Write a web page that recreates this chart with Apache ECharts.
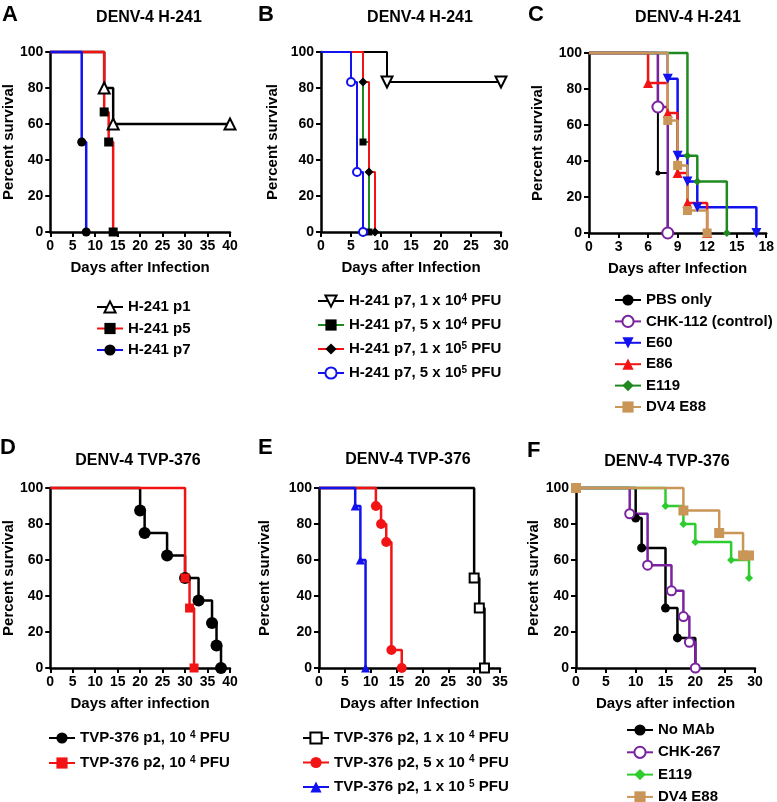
<!DOCTYPE html>
<html>
<head>
<meta charset="utf-8">
<script src="https://cdn.jsdelivr.net/npm/echarts@6/dist/echarts.min.js"></script>
<style>
  html, body { margin: 0; padding: 0; background: #fff; }
  #main { width: 777px; height: 802px; }
</style>
</head>
<body>
<div id="main"></div>
<script>
// survival data, [day, percent]
const panelA_p1 = [[0, 100], [12, 80], [14, 60], [40, 60]];
const panelA_p5 = [[0, 100], [12, 66.7], [13, 50], [14, 0]];
const panelA_p7 = [[0, 100], [7, 50], [8, 0]];

const panelB_1e4 = [[0, 100], [11, 83.3], [30, 83.3]];
const panelB_5e4 = [[0, 100], [7, 50], [8, 0]];
const panelB_1e5 = [[0, 100], [7, 83.3], [8, 33.3], [9, 0]];
const panelB_5e5 = [[0, 100], [5, 83.3], [6, 33.3], [7, 0]];

const panelC_pbs = [[0, 100], [7, 33.3], [8, 0]];
const panelC_chk112 = [[0, 100], [7, 70], [8, 0]];
const panelC_e60 = [[0, 100], [8, 85.7], [9, 42.9], [10, 28.6], [11, 14.3], [17, 0]];
const panelC_e86 = [[0, 100], [6, 83.3], [8, 66.7], [9, 33.3], [10, 16.7], [12, 0]];
const panelC_e119 = [[0, 100], [10, 42.9], [11, 28.6], [14, 0]];
const panelC_dv4e88 = [[0, 100], [8, 62.5], [9, 37.5], [10, 12.5], [12, 0]];

const panelD_p1 = [[0, 100], [20, 87.5], [21, 75], [26, 62.5], [30, 50], [33, 37.5], [36, 25], [37, 12.5], [38, 0]];
const panelD_p2 = [[0, 100], [30, 50], [31, 33.3], [32, 0]];

const panelE_1e4 = [[0, 100], [30, 50], [31, 33.3], [32, 0]];
const panelE_5e4 = [[0, 100], [11, 90], [12, 80], [13, 70], [14, 10], [16, 0]];
const panelE_1e5 = [[0, 100], [7, 90], [8, 60], [9, 0]];

const panelF_nomab = [[0, 100], [10, 83.3], [11, 66.7], [15, 33.3], [17, 16.7], [20, 0]];
const panelF_chk267 = [[0, 100], [9, 85.7], [12, 57.1], [16, 42.9], [18, 28.6], [19, 14.3], [20, 0]];
const panelF_e119 = [[0, 100], [15, 90], [18, 80], [20, 70], [26, 60], [29, 50]];
const panelF_dv4e88 = [[0, 100], [18, 87.5], [24, 75], [28, 62.5], [29, 62.5]];

const panelLetters = ['A', 'B', 'C', 'D', 'E', 'F'];
const panelTitles = ['DENV-4 H-241', 'DENV-4 H-241', 'DENV-4 H-241',
  'DENV-4 TVP-376', 'DENV-4 TVP-376', 'DENV-4 TVP-376'];
const xMax = [40, 30, 18, 40, 35, 30];
const xStep = [5, 5, 3, 5, 5, 5];
const xNames = ['Days after Infection', 'Days after Infection', 'Days after Infection',
  'Days after infection', 'Days after Infection', 'Days after infection'];

const labels = {
  a1: 'H-241 p1', a5: 'H-241 p5', a7: 'H-241 p7',
  b1: 'H-241 p7, 1 x 10{s|4} PFU', b2: 'H-241 p7, 5 x 10{s|4} PFU',
  b3: 'H-241 p7, 1 x 10{s|5} PFU', b4: 'H-241 p7, 5 x 10{s|5} PFU',
  c1: 'PBS only', c2: 'CHK-112 (control)', c3: 'E60', c4: 'E86', c5: 'E119', c6: 'DV4 E88',
  d1: 'TVP-376 p1, 10 {s|4} PFU', d2: 'TVP-376 p2, 10 {s|4} PFU',
  e1: 'TVP-376 p2, 1 x 10 {s|4} PFU', e2: 'TVP-376 p2, 5 x 10 {s|4} PFU', e3: 'TVP-376 p2, 1 x 10 {s|5} PFU',
  f1: 'No MAb', f2: 'CHK-267', f3: 'E119', f4: 'DV4 E88'
};

const FONT = 'Liberation Sans, Arial, sans-serif';
const BLACK = '#000000', RED = '#f21414', BLUE = '#1212ee', GREEN = '#1f8a1f',
  PURPLE = '#7a22a0', TAN = '#c99658', LGREEN = '#2ecc2e';

// grid boxes
const grids = [
  { left: 50, top: 52, width: 180, height: 180 },
  { left: 321, top: 52, width: 180, height: 180 },
  { left: 589, top: 53, width: 179, height: 180 },
  { left: 49, top: 488, width: 181, height: 180 },
  { left: 319, top: 488, width: 181, height: 180 },
  { left: 576, top: 488, width: 179, height: 180 }
];
const yNameGap = [34, 41, 44, 34, 47, 31];

function km(name, data, g, o) {
  const empty = o.symbol.indexOf('empty') === 0;
  return {
    name: name, type: 'line', step: 'end',
    xAxisIndex: g, yAxisIndex: g,
    data: data.map((d, i) => (i === 0 && !o.first) ? { value: d, symbol: 'none' } : d),
    symbol: o.symbol, symbolSize: o.size, symbolRotate: o.rotate || 0,
    showSymbol: true, showAllSymbol: true, clip: false,
    lineStyle: { color: o.color, width: o.width || 2 },
    itemStyle: {
      color: o.mcolor || o.color,
      borderColor: o.mcolor || o.color,
      borderWidth: empty ? 2 : 0
    },
    emphasis: { disabled: true },
    silent: true
  };
}

const series = [
  km('a1', panelA_p1, 0, { color: BLACK, symbol: 'emptyTriangle', size: 11, width: 2.5 }),
  km('a5', panelA_p5, 0, { color: RED, mcolor: BLACK, symbol: 'rect', size: 9, width: 2.5 }),
  km('a7', panelA_p7, 0, { color: BLUE, mcolor: BLACK, symbol: 'circle', size: 9, width: 2.5 }),

  km('b1', panelB_1e4, 1, { color: BLACK, symbol: 'emptyTriangle', size: 11, rotate: 180 }),
  km('b2', panelB_5e4, 1, { color: GREEN, mcolor: BLACK, symbol: 'rect', size: 7 }),
  km('b3', panelB_1e5, 1, { color: RED, mcolor: BLACK, symbol: 'diamond', size: 9 }),
  km('b4', panelB_5e5, 1, { color: BLUE, symbol: 'emptyCircle', size: 8 }),

  km('c1', panelC_pbs, 2, { color: BLACK, symbol: 'circle', size: 5 }),
  km('c2', panelC_chk112, 2, { color: PURPLE, symbol: 'emptyCircle', size: 11, width: 2.5 }),
  km('c3', panelC_e60, 2, { color: BLUE, symbol: 'triangle', size: 10, rotate: 180, width: 2.5 }),
  km('c4', panelC_e86, 2, { color: RED, symbol: 'triangle', size: 10, width: 2.5 }),
  km('c5', panelC_e119, 2, { color: GREEN, symbol: 'diamond', size: 8, width: 2.5 }),
  km('c6', panelC_dv4e88, 2, { color: TAN, symbol: 'rect', size: 9, width: 2.5 }),

  km('d1', panelD_p1, 3, { color: BLACK, symbol: 'circle', size: 12, width: 2.5 }),
  km('d2', panelD_p2, 3, { color: RED, symbol: 'rect', size: 9, width: 2.5 }),

  km('e1', panelE_1e4, 4, { color: BLACK, symbol: 'emptyRect', size: 9, width: 2.5 }),
  km('e2', panelE_5e4, 4, { color: RED, symbol: 'circle', size: 10, width: 2.5 }),
  km('e3', panelE_1e5, 4, { color: BLUE, symbol: 'triangle', size: 9, width: 2.5 }),

  km('f1', panelF_nomab, 5, { color: BLACK, symbol: 'circle', size: 9, width: 2.5 }),
  km('f2', panelF_chk267, 5, { color: PURPLE, symbol: 'emptyCircle', size: 9, width: 2.5 }),
  km('f3', panelF_e119, 5, { color: LGREEN, symbol: 'diamond', size: 8, width: 2.5 }),
  km('f4', panelF_dv4e88, 5, { color: TAN, symbol: 'rect', size: 10, width: 2.5, first: true })
];

const axisCommon = {
  axisLine: { show: true, onZero: false, lineStyle: { color: '#000', width: 2.5 } },
  axisTick: { show: true, length: 5, lineStyle: { color: '#000', width: 2 } },
  splitLine: { show: false },
  axisLabel: { color: '#000', fontFamily: FONT, fontWeight: 'bold', fontSize: 14, margin: 7 },
  nameTextStyle: { color: '#000', fontFamily: FONT, fontWeight: 'bold', fontSize: 15 }
};

const xAxes = grids.map((g, i) => Object.assign({}, axisCommon, {
  type: 'value', gridIndex: i, min: 0, max: xMax[i], interval: xStep[i],
  name: xNames[i], nameLocation: 'middle', nameGap: 28
}));
const yAxes = grids.map((g, i) => Object.assign({}, axisCommon, {
  type: 'value', gridIndex: i, min: 0, max: 100, interval: 20,
  name: 'Percent survival', nameLocation: 'middle', nameRotate: 90, nameGap: yNameGap[i]
}));

function legend(names, left, top, gap) {
  return {
    data: names, left: left, top: top, orient: 'vertical',
    width: 200, height: 200, padding: 0,
    itemWidth: 26, itemHeight: 14, itemGap: gap, selectedMode: false,
    formatter: n => labels[n],
    textStyle: {
      color: '#000', fontFamily: FONT, fontWeight: 'bold', fontSize: 15, lineHeight: 16,
      rich: { s: { fontSize: 10, fontWeight: 'bold', fontFamily: FONT, color: '#000', verticalAlign: 'top', lineHeight: 8 } }
    }
  };
}

const titleSpots = [[149, 18], [420, 18], [688, 18], [138, 461], [408, 460], [667, 462]];
const letterSpots = [[2, 4], [258, 4], [528, 4], [0, 437], [258, 437], [527, 440]];
const graphics = [];
panelTitles.forEach((t, i) => graphics.push({
  type: 'text', x: titleSpots[i][0], y: titleSpots[i][1],
  style: { text: t, fill: '#000', font: 'bold 16px ' + FONT, textAlign: 'center', textVerticalAlign: 'middle' }
}));
panelLetters.forEach((t, i) => graphics.push({
  type: 'text', x: letterSpots[i][0], y: letterSpots[i][1],
  style: { text: t, fill: '#000', font: 'bold 22px ' + FONT, textAlign: 'left', textVerticalAlign: 'top' }
}));

const chart = echarts.init(document.getElementById('main'), null, { renderer: 'canvas' });
chart.setOption({
  animation: false,
  backgroundColor: '#fff',
  grid: grids,
  xAxis: xAxes,
  yAxis: yAxes,
  legend: [
    legend(['a1', 'a5', 'a7'], 96, 299, 5.5),
    legend(['b1', 'b2', 'b3', 'b4'], 317, 293, 8),
    legend(['c1', 'c2', 'c3', 'c4', 'c5', 'c6'], 614, 292, 5.4),
    legend(['d1', 'd2'], 48, 730, 9),
    legend(['e1', 'e2', 'e3'], 302, 730, 8.5),
    legend(['f1', 'f2', 'f3', 'f4'], 626, 722, 6.3)
  ],
  graphic: graphics,
  series: series
});
</script>
</body>
</html>
